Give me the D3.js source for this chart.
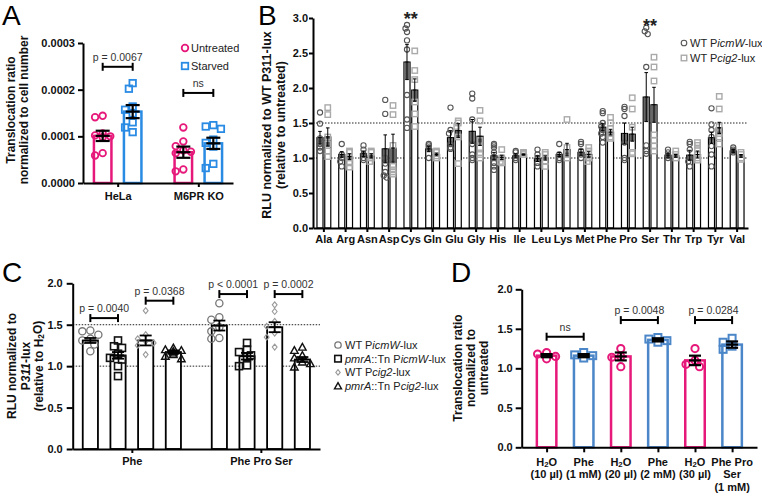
<!DOCTYPE html>
<html><head><meta charset="utf-8">
<script src="https://cdn.jsdelivr.net/npm/d3@7"></script>
<style>
body{margin:0;background:#fff;}
svg{display:block;}
</style></head><body>
<svg id="fig" width="762" height="496"></svg>
<script>
// ================= DATA =================
// Panel A
const aGroups = ["HeLa", "M6PR KO"];
const aSeries = ["Untreated", "Starved"];
const aUntreatedMean = [0.000101, 0.000066];
const aUntreatedSem = [0.000011, 0.000012];
const aStarvedMean = [0.000153, 0.000085];
const aStarvedSem = [0.000014, 0.000012];
const aUntreatedPoints = [
  [0.000141, 0.000144, 0.000100, 0.000102, 0.000106, 0.000098, 0.000064, 0.000059],
  [0.000119, 0.000089, 0.000079, 0.000070, 0.000067, 0.000064, 0.000029, 0.000025]
];
const aStarvedPoints = [
  [0.000202, 0.000214, 0.000164, 0.000157, 0.000149, 0.000130, 0.000119, 0.000109],
  [0.000124, 0.000121, 0.000116, 0.000093, 0.000086, 0.000078, 0.000041, 0.000032]
];
const aYTicks = [0, 0.0001, 0.0002, 0.0003];
const aSigLabels = ["p = 0.0067", "ns"];
const aSigHeights = [0.000249, 0.000193];

// Panel B
const bCategories = ["Ala","Arg","Asn","Asp","Cys","Gln","Glu","Gly","His","Ile","Leu","Lys","Met","Phe","Pro","Ser","Thr","Trp","Tyr","Val"];
const bSeries = ["WT P*icmW*-lux", "WT P*cig2*-lux"];
const bIcmWMean = [1.29,1.05,1.06,1.13,2.37,1.13,1.29,1.38,1.03,1.03,0.99,1.05,1.08,1.44,1.35,1.87,1.04,1.04,1.29,1.10];
const bIcmWSem  = [0.09,0.04,0.04,0.20,0.25,0.04,0.10,0.17,0.05,0.03,0.04,0.03,0.04,0.05,0.15,0.35,0.03,0.07,0.08,0.02];
const bCig2Mean = [1.30,1.02,1.03,1.14,1.97,1.05,1.39,1.31,1.01,1.05,1.00,1.12,1.05,1.37,1.34,1.76,1.03,1.05,1.43,1.03];
const bCig2Sem  = [0.13,0.04,0.03,0.20,0.16,0.02,0.10,0.13,0.03,0.01,0.03,0.09,0.04,0.04,0.10,0.25,0.02,0.05,0.08,0.02];
const bIcmWPoints = [
  [1.65,1.49,1.28,1.20,1.15,1.10],
  [1.20,1.05,1.00,0.95,0.88],
  [1.18,1.12,1.05,1.00,0.97],
  [1.83,1.63,1.00,0.92,0.80,0.75,0.72],
  [2.90,2.85,2.80,2.68,2.55,1.90,1.55,1.43],
  [1.20,1.18,1.15,1.00],
  [1.72,1.40,1.35,1.20,1.15,1.13],
  [1.92,1.85,1.55,1.20,1.05,1.00,0.97],
  [1.20,1.18,1.15,1.08,1.00,0.93,0.88,0.83],
  [1.10,1.08,1.00,0.97],
  [1.12,1.05,1.00,0.93,0.88],
  [1.20,1.05,1.00,0.97],
  [1.23,1.20,1.10,1.05,1.00],
  [1.67,1.64,1.50,1.45,1.40,1.35,1.30,1.22],
  [1.73,1.70,1.60,1.22,1.00,0.97],
  [2.86,2.81,2.77,2.30,1.18,1.10,1.06],
  [1.12,1.08,1.03,1.00],
  [1.23,1.20,1.12,1.00,0.95,0.88],
  [1.71,1.48,1.40,1.30,1.17,1.05,0.88],
  [1.15,1.12,1.10,1.08]
];
const bCig2Points = [
  [1.72,1.62,1.30,1.20,1.10,1.02],
  [1.10,1.08,1.00,0.93,0.87],
  [1.10,1.08,1.00,0.95],
  [1.75,1.62,1.18,0.88,0.83,0.80,0.77],
  [2.53,2.25,2.12,1.80,1.63,1.45],
  [1.10,1.08,1.03,1.00],
  [1.53,1.50,1.45,1.30,0.92],
  [1.68,1.53,1.25,1.15,1.05,1.00],
  [1.12,1.00,0.95,0.93],
  [1.08,1.07,1.05],
  [1.08,1.05,0.95,0.88],
  [1.55,1.15,1.05,1.00],
  [1.15,1.10,1.00,0.95],
  [1.58,1.50,1.42,1.35,1.30,1.28],
  [1.86,1.70,1.44,1.08,1.06],
  [2.44,2.30,2.10,1.33,1.25,1.17,1.10],
  [1.10,1.05,1.00],
  [1.22,1.18,1.12,1.05,1.00,0.97],
  [1.88,1.70,1.45,1.35,1.30,1.20],
  [1.08,1.05,1.00,0.98]
];
const bYTicks = [0, 0.5, 1.0, 1.5, 2.0, 2.5, 3.0];
const bRefLines = [1.0, 1.5];
const bStarCats = ["Cys", "Ser"];
const bStarHeights = [3.04, 2.94];

// Panel C
const cGroups = ["Phe", "Phe Pro Ser"];
const cSeries = ["WT P*icmW*-lux", "*pmrA*::Tn P*icmW*-lux", "WT P*cig2*-lux", "*pmrA*::Tn P*cig2*-lux"];
const cMeans = [[1.31, 1.13, 1.31, 1.17], [1.49, 1.12, 1.47, 1.08]];
const cSems  = [[0.03, 0.04, 0.06, 0.02], [0.06, 0.04, 0.06, 0.03]];
const cPoints = [
  [
    [1.43,1.42,1.38,1.33,1.31,1.26,1.18],
    [1.31,1.24,1.22,1.15,1.10,1.08,1.00,0.88],
    [1.67,1.38,1.33,1.30,1.28,1.25,1.14],
    [1.22,1.20,1.19,1.18,1.16,1.14,1.12,1.09]
  ],
  [
    [1.76,1.59,1.56,1.47,1.42,1.34,1.33],
    [1.28,1.20,1.17,1.13,1.11,1.01,1.00],
    [1.74,1.66,1.54,1.48,1.40,1.35,1.23],
    [1.23,1.19,1.13,1.10,1.05,1.03,0.99]
  ]
];
const cYTicks = [0, 0.5, 1.0, 1.5, 2.0];
const cRefLines = [1.0, 1.5];
const cSigLabels = ["p = 0.0040", "p = 0.0368", "p < 0.0001", "p = 0.0002"];
const cSigGroup = [0, 0, 1, 1];
const cSigFrom = [0, 2, 0, 2];
const cSigTo = [1, 3, 1, 3];
const cSigHeights = [1.58, 1.79, 1.87, 1.87];

// Panel D
const dCategories = ["H2O 10 µl", "Phe 1 mM", "H2O 20 µl", "Phe 2 mM", "H2O 30 µl", "Phe Pro Ser 1 mM"];
const dLabelLines = [["H_2O","(10 µl)"], ["Phe","(1 mM)"], ["H_2O","(20 µl)"], ["Phe","(2 mM)"], ["H_2O","(30 µl)"], ["Phe Pro","Ser","(1 mM)"]];
const dTreatment = ["H2O", "Phe", "H2O", "Phe", "H2O", "Phe"];
const dMeans = [1.16, 1.16, 1.15, 1.36, 1.10, 1.30];
const dSems  = [0.02, 0.02, 0.05, 0.02, 0.06, 0.04];
const dPoints = [
  [1.20,1.18,1.15,1.12],
  [1.20,1.17,1.16,1.13],
  [1.25,1.15,1.14,1.02],
  [1.39,1.37,1.35,1.33],
  [1.25,1.10,1.05,1.02],
  [1.38,1.33,1.28,1.24]
];
const dYTicks = [0, 0.5, 1.0, 1.5, 2.0];
const dSigLabels = ["ns", "p = 0.0048", "p = 0.0284"];
const dSigFrom = [0, 2, 4];
const dSigTo = [1, 3, 5];
const dSigHeights = [1.40, 1.61, 1.61];

// ================= HELPERS =================
const FONT = '"Liberation Sans", Arial, Helvetica, sans-serif';
const PINK = "#e6197b";
const BLUE_A = "#2a8be4";
const BLUE_D = "#4a86c8";
const svg = d3.select("#fig").attr("font-family", FONT);

function rich(sel, str) {
  // '*' toggles italics, '_2' marks a subscript digit
  const parts = str.split("*");
  let pendingDy = null;
  parts.forEach((p, i) => {
    if (!p) return;
    const italic = i % 2 === 1;
    p.split(/(_\d)/).forEach(s => {
      if (!s) return;
      if (/^_\d$/.test(s)) {
        sel.append("tspan").attr("font-size", "70%").attr("dy", "0.15em").text(s.slice(1));
        pendingDy = "-0.15em";
      } else {
        const t = sel.append("tspan").attr("font-style", italic ? "italic" : "normal").text(s);
        if (pendingDy) { t.attr("dy", pendingDy); pendingDy = null; }
      }
    });
  });
}

function styleAxis(g, fs) {
  g.attr("font-family", FONT).attr("font-size", fs);
  g.select(".domain").attr("stroke", "#000").attr("stroke-width", 2);
  g.selectAll(".tick line").attr("stroke", "#000").attr("stroke-width", 2);
  g.selectAll(".tick text").attr("font-weight", "bold").attr("fill", "#111");
}

function swarm(values, yScale, dist, step, maxOff) {
  const pts = values.map(v => ({ v, y: yScale(v), dx: 0 }));
  const order = pts.slice().sort((a, b) => a.y - b.y);
  const placed = [];
  order.forEach(p => {
    const cands = [0];
    for (let k = 1; k * step <= maxOff + 1e-9; k++) cands.push(-k * step, k * step);
    let chosen = 0;
    for (const c of cands) {
      if (placed.every(q => Math.hypot(q.dx - c, q.y - p.y) >= dist)) { chosen = c; break; }
    }
    p.dx = chosen;
    placed.push(p);
  });
  return pts;
}

function marker(g, shape, x, y, size, stroke, sw) {
  if (shape === "circle") {
    g.append("circle").attr("cx", x).attr("cy", y).attr("r", size)
      .attr("fill", "none").attr("stroke", stroke).attr("stroke-width", sw);
  } else if (shape === "square") {
    g.append("rect").attr("x", x - size / 2).attr("y", y - size / 2)
      .attr("width", size).attr("height", size)
      .attr("fill", "none").attr("stroke", stroke).attr("stroke-width", sw);
  } else if (shape === "diamond") {
    const s = size / 2;
    g.append("path").attr("d", `M${x},${y - s}L${x + s * 0.8},${y}L${x},${y + s}L${x - s * 0.8},${y}Z`)
      .attr("fill", "none").attr("stroke", stroke).attr("stroke-width", sw);
  } else if (shape === "triangle") {
    const s = size / 2;
    g.append("path").attr("d", `M${x},${y - s}L${x + s},${y + s * 0.8}L${x - s},${y + s * 0.8}Z`)
      .attr("fill", "none").attr("stroke", stroke).attr("stroke-width", sw);
  }
}

function errorBar(g, x, y1, y2, yMid, cap, sw) {
  g.append("line").attr("x1", x).attr("x2", x).attr("y1", y1).attr("y2", y2)
    .attr("stroke", "#000").attr("stroke-width", sw);
  [y1, y2, yMid].forEach(yy => {
    g.append("line").attr("x1", x - cap).attr("x2", x + cap).attr("y1", yy).attr("y2", yy)
      .attr("stroke", "#000").attr("stroke-width", sw);
  });
}

function bracket(g, x1, x2, y, label, fs) {
  g.append("line").attr("x1", x1).attr("x2", x2).attr("y1", y).attr("y2", y)
    .attr("stroke", "#000").attr("stroke-width", 2);
  [x1, x2].forEach(xx => g.append("line").attr("x1", xx).attr("x2", xx)
    .attr("y1", y - 4).attr("y2", y + 4).attr("stroke", "#000").attr("stroke-width", 2));
  g.append("text").attr("x", (x1 + x2) / 2).attr("y", y - 6).attr("text-anchor", "middle")
    .attr("font-size", fs).attr("fill", "#333").text(label);
}

function yTitle(g, lines, xs, yc, fs) {
  lines.forEach((ln, i) => {
    const t = g.append("text").attr("transform", `translate(${xs[i]},${yc}) rotate(-90)`)
      .attr("text-anchor", "middle").attr("font-size", fs).attr("font-weight", "bold").attr("fill", "#111");
    rich(t, ln);
  });
}

function panelLetter(x, y, ch) {
  svg.append("text").attr("x", x).attr("y", y).attr("font-size", 28).attr("fill", "#000").text(ch);
}

// ================= PANEL A =================
(function () {
  const g = svg.append("g");
  const yA = d3.scaleLinear().domain([0, 0.0003]).range([183, 43]);
  const xA = d3.scalePoint().domain(aGroups).range([83, 233]).padding(0.43);
  const xSub = d3.scaleBand().domain(aSeries).range([-25, 25]).paddingInner(1 / 3);
  const col = { "Untreated": PINK, "Starved": BLUE_A };
  const rows = [];
  aGroups.forEach((grp, i) => {
    rows.push({ grp, s: "Untreated", mean: aUntreatedMean[i], sem: aUntreatedSem[i], pts: aUntreatedPoints[i] });
    rows.push({ grp, s: "Starved", mean: aStarvedMean[i], sem: aStarvedSem[i], pts: aStarvedPoints[i] });
  });
  const bw = xSub.bandwidth();
  rows.forEach(r => {
    const x0 = xA(r.grp) + xSub(r.s);
    g.append("rect").attr("x", x0 + 1.25).attr("width", bw - 2.5)
      .attr("y", yA(r.mean)).attr("height", yA(0) - yA(r.mean))
      .attr("fill", "#fff").attr("stroke", col[r.s]).attr("stroke-width", 2.5);
  });
  rows.forEach(r => {
    const cx = xA(r.grp) + xSub(r.s) + bw / 2;
    swarm(r.pts, yA, 6.6, 3.8, 8).forEach(p => {
      if (r.s === "Untreated") marker(g, "circle", cx + p.dx, p.y, 3.3, PINK, 1.8);
      else marker(g, "square", cx + p.dx, p.y, 6.5, BLUE_A, 1.8);
    });
  });
  rows.forEach(r => {
    const cx = xA(r.grp) + xSub(r.s) + bw / 2;
    errorBar(g, cx, yA(r.mean - r.sem), yA(r.mean + r.sem), yA(r.mean), 7, 2.2);
  });
  const ax = g.append("g").attr("transform", "translate(83,0)")
    .call(d3.axisLeft(yA).tickValues(aYTicks).tickFormat(d3.format(".4f")).tickSize(5).tickSizeOuter(0).tickPadding(3));
  styleAxis(ax, 11);
  const bx = g.append("g").attr("transform", "translate(0,183)")
    .call(d3.axisBottom(xA).tickSize(4).tickSizeOuter(0).tickPadding(5));
  styleAxis(bx, 11);
  aGroups.forEach((grp, i) => {
    const c = xA(grp);
    bracket(g, c + xSub("Untreated") + bw / 2, c + xSub("Starved") + bw / 2, yA(aSigHeights[i]), aSigLabels[i], 10.5);
  });
  aSeries.forEach((s, i) => {
    const y = 48 + i * 18;
    if (i === 0) marker(g, "circle", 185, y, 3.3, PINK, 1.8);
    else marker(g, "square", 185, y, 6.5, BLUE_A, 1.8);
    g.append("text").attr("x", 191).attr("y", y + 4).attr("font-size", 11).attr("fill", "#222").text(s);
  });
  yTitle(g, ["Translocation ratio", "normalized to cell number"], [15, 28], 110, 12);
  panelLetter(2, 25, "A");
})();

// ================= PANEL B =================
(function () {
  const g = svg.append("g");
  const yB = d3.scaleLinear().domain([0, 3]).range([228, 18]);
  const xB = d3.scaleBand().domain(bCategories).range([313, 748]);
  const xSub = d3.scaleBand().domain(bSeries).range([-7.5, 7.5]).paddingInner(1 / 15);
  const bw = xSub.bandwidth();
  bRefLines.forEach(v => g.append("line").attr("x1", 313).attr("x2", 748).attr("y1", yB(v)).attr("y2", yB(v))
    .attr("stroke", "#222").attr("stroke-width", 1).attr("stroke-dasharray", "1.5,1.5"));
  const rows = [];
  bCategories.forEach((c, i) => {
    rows.push({ c, s: bSeries[0], mean: bIcmWMean[i], sem: bIcmWSem[i], pts: bIcmWPoints[i], shape: "circle" });
    rows.push({ c, s: bSeries[1], mean: bCig2Mean[i], sem: bCig2Sem[i], pts: bCig2Points[i], shape: "square" });
  });
  rows.forEach(r => {
    const x0 = xB(r.c) + xB.bandwidth() / 2 + xSub(r.s);
    g.append("rect").attr("x", x0 + 0.6).attr("width", bw - 1.2)
      .attr("y", yB(r.mean)).attr("height", yB(0) - yB(r.mean))
      .attr("fill", "#fff").attr("stroke", "#000").attr("stroke-width", 1.2);
    g.append("rect").attr("x", x0 + 1.2).attr("width", bw - 2.4)
      .attr("y", yB(r.mean)).attr("height", yB(r.mean - r.sem) - yB(r.mean))
      .attr("fill", "#666");
  });
  rows.forEach(r => {
    const cx = xB(r.c) + xB.bandwidth() / 2 + xSub(r.s) + bw / 2;
    swarm(r.pts, yB, 3.5, 1.5, 1.5).forEach(p => {
      if (r.shape === "circle") marker(g, "circle", cx + p.dx, p.y, 2.6, "#555", 1.1);
      else marker(g, "square", cx + p.dx, p.y, 5.4, "#aaa", 1.4);
    });
  });
  rows.forEach(r => {
    const cx = xB(r.c) + xB.bandwidth() / 2 + xSub(r.s) + bw / 2;
    errorBar(g, cx, yB(r.mean - r.sem), yB(r.mean + r.sem), yB(r.mean), 1.8, 1);
  });
  const ax = g.append("g").attr("transform", "translate(313,0)")
    .call(d3.axisLeft(yB).tickValues(bYTicks).tickFormat(d3.format(".1f")).tickSize(4).tickSizeOuter(0).tickPadding(1));
  styleAxis(ax, 11);
  const bx = g.append("g").attr("transform", "translate(0,228)")
    .call(d3.axisBottom(xB).tickSize(4).tickSizeOuter(0).tickPadding(3));
  styleAxis(bx, 11);
  bStarCats.forEach((c, i) => {
    g.append("text").attr("x", xB(c) + xB.bandwidth() / 2).attr("y", yB(bStarHeights[i]) + 10)
      .attr("text-anchor", "middle").attr("font-size", 18).attr("font-weight", "bold").attr("fill", "#222").text("**");
  });
  bSeries.forEach((s, i) => {
    const y = 43 + i * 15;
    if (i === 0) marker(g, "circle", 684, y, 2.8, "#555", 1.1);
    else marker(g, "square", 684, y, 5.5, "#aaa", 1.4);
    const t = g.append("text").attr("x", 690).attr("y", y + 4).attr("font-size", 11).attr("fill", "#222");
    rich(t, s);
  });
  yTitle(g, ["RLU normalized to WT P311-lux", "(relative to untreated)"], [271, 285], 125, 12.5);
  panelLetter(258, 25, "B");
})();

// ================= PANEL C =================
(function () {
  const g = svg.append("g");
  const yC = d3.scaleLinear().domain([0, 2]).range([449, 283.3]);
  const xC = d3.scalePoint().domain(cGroups).range([72.7, 320]).padding(0.4585);
  const xSub = d3.scaleBand().domain(d3.range(cSeries.length)).range([-50, 50]).paddingInner(0.386);
  const bw = xSub.bandwidth();
  const shapes = ["circle", "square", "diamond", "triangle"];
  const strokes = ["#777", "#111", "#999", "#111"];
  const sizes = [3.6, 7, 6, 7.5];
  const sws = [1.3, 1.6, 1.1, 1.4];
  cRefLines.forEach(v => g.append("line").attr("x1", 72.7).attr("x2", 320).attr("y1", yC(v)).attr("y2", yC(v))
    .attr("stroke", "#222").attr("stroke-width", 1).attr("stroke-dasharray", "1.5,1.5"));
  cGroups.forEach((grp, gi) => {
    cSeries.forEach((s, si) => {
      const x0 = xC(grp) + xSub(si);
      const m = cMeans[gi][si];
      g.append("rect").attr("x", x0 + 0.9).attr("width", bw - 1.8)
        .attr("y", yC(m)).attr("height", yC(0) - yC(m))
        .attr("fill", "#fff").attr("stroke", "#000").attr("stroke-width", 1.8);
    });
  });
  cGroups.forEach((grp, gi) => {
    cSeries.forEach((s, si) => {
      const cx = xC(grp) + xSub(si) + bw / 2;
      swarm(cPoints[gi][si], yC, 6.5, 4, 10).forEach(p => {
        marker(g, shapes[si], cx + p.dx, p.y, sizes[si], strokes[si], sws[si]);
      });
    });
  });
  cGroups.forEach((grp, gi) => {
    cSeries.forEach((s, si) => {
      const cx = xC(grp) + xSub(si) + bw / 2;
      const m = cMeans[gi][si], e = cSems[gi][si];
      errorBar(g, cx, yC(m - e), yC(m + e), yC(m), 6, 1.8);
    });
  });
  const ax = g.append("g").attr("transform", "translate(72.7,0)")
    .call(d3.axisLeft(yC).tickValues(cYTicks).tickFormat(d3.format(".1f")).tickSize(6).tickSizeOuter(0).tickPadding(4));
  styleAxis(ax, 11);
  const bx = g.append("g").attr("transform", "translate(0,449)")
    .call(d3.axisBottom(xC).tickSize(4).tickSizeOuter(0).tickPadding(4));
  styleAxis(bx, 11);
  cSigLabels.forEach((lab, i) => {
    const c = xC(cGroups[cSigGroup[i]]);
    bracket(g, c + xSub(cSigFrom[i]) + bw / 2, c + xSub(cSigTo[i]) + bw / 2, yC(cSigHeights[i]), lab, 10.5);
  });
  cSeries.forEach((s, i) => {
    const y = 345 + i * 13.7;
    marker(g, shapes[i], 338, y, i === 0 ? 3.2 : sizes[i] - 0.5, strokes[i], sws[i]);
    const t = g.append("text").attr("x", 345).attr("y", y + 4).attr("font-size", 11).attr("fill", "#222");
    rich(t, s);
  });
  yTitle(g, ["RLU normalized to", "P*311*-lux", "(relative to H_2O)"], [16, 29.5, 43], 366, 12);
  panelLetter(2, 282, "C");
})();

// ================= PANEL D =================
(function () {
  const g = svg.append("g");
  const yD = d3.scaleLinear().domain([0, 2]).range([447.3, 289.3]);
  const xD = d3.scalePoint().domain(dCategories).range([521.7, 757]).padding(0.671);
  const bw = 22;
  const col = t => t === "H2O" ? PINK : BLUE_D;
  dCategories.forEach((c, i) => {
    const cx = xD(c);
    g.append("rect").attr("x", cx - bw / 2 + 1.25).attr("width", bw - 2.5)
      .attr("y", yD(dMeans[i])).attr("height", yD(0) - yD(dMeans[i]))
      .attr("fill", "#fff").attr("stroke", col(dTreatment[i])).attr("stroke-width", 2.5);
  });
  dCategories.forEach((c, i) => {
    const cx = xD(c);
    swarm(dPoints[i], yD, 7, 4.5, 9).forEach(p => {
      if (dTreatment[i] === "H2O") marker(g, "circle", cx + p.dx, p.y, 3.6, PINK, 2);
      else marker(g, "square", cx + p.dx, p.y, 7, BLUE_D, 2);
    });
  });
  dCategories.forEach((c, i) => {
    errorBar(g, xD(c), yD(dMeans[i] - dSems[i]), yD(dMeans[i] + dSems[i]), yD(dMeans[i]), 6, 2.2);
  });
  const ax = g.append("g").attr("transform", "translate(521.7,0)")
    .call(d3.axisLeft(yD).tickValues(dYTicks).tickFormat(d3.format(".1f")).tickSize(6).tickSizeOuter(0).tickPadding(3));
  styleAxis(ax, 11);
  const bx = g.append("g").attr("transform", "translate(0,447.3)")
    .call(d3.axisBottom(xD).tickSize(5).tickSizeOuter(0).tickFormat(""));
  styleAxis(bx, 11);
  bx.selectAll(".tick text").remove();
  dCategories.forEach((c, i) => {
    dLabelLines[i].forEach((ln, k) => {
      const t = g.append("text").attr("x", xD(c)).attr("y", 466 + k * 12.3)
        .attr("text-anchor", "middle").attr("font-size", 11).attr("font-weight", "bold").attr("fill", "#111");
      rich(t, ln);
    });
  });
  dSigLabels.forEach((lab, i) => {
    bracket(g, xD(dCategories[dSigFrom[i]]), xD(dCategories[dSigTo[i]]), yD(dSigHeights[i]), lab, 10.5);
  });
  yTitle(g, ["Translocation ratio", "normalized to", "untreated"], [462, 475, 488], 368, 12);
  panelLetter(451, 282, "D");
})();
</script>
</body></html>
